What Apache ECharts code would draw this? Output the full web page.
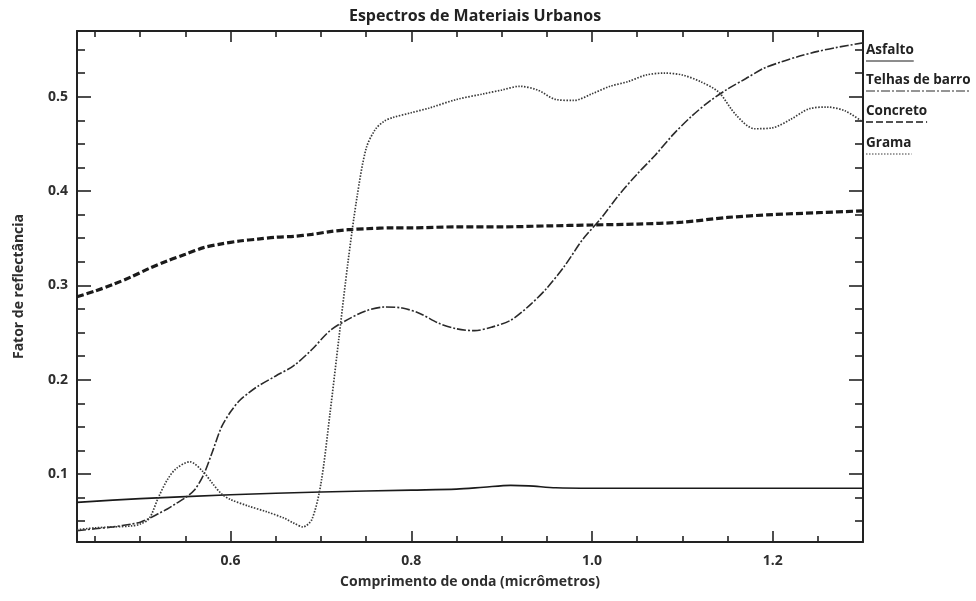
<!DOCTYPE html>
<html>
<head>
<meta charset="utf-8">
<script src="https://cdn.jsdelivr.net/npm/echarts@6/dist/echarts.min.js"></script>
<style>
  html, body { margin: 0; padding: 0; background: #fff; }
  #chart { width: 976px; height: 601px; }
</style>
</head>
<body>
<div id="chart"></div>
<script>
// ---- Data ----
const seriesNames = ["Asfalto", "Telhas de barro", "Concreto", "Grama"];

const asfaltoX = [0.43, 0.50, 0.60, 0.70, 0.80, 0.85, 0.88, 0.91, 0.93, 0.96, 1.00, 1.10, 1.20, 1.30];
const asfaltoY = [0.070, 0.074, 0.078, 0.081, 0.083, 0.084, 0.086, 0.088, 0.0875, 0.0855, 0.085, 0.085, 0.085, 0.085];

const telhasX = [0.43, 0.45, 0.47, 0.49, 0.50, 0.51, 0.52, 0.53, 0.54, 0.55, 0.56, 0.57, 0.58, 0.59, 0.60, 0.61, 0.62, 0.63, 0.65, 0.67, 0.69, 0.71, 0.73, 0.75, 0.77, 0.79, 0.81, 0.83, 0.85, 0.87, 0.89, 0.91, 0.93, 0.95, 0.97, 0.99, 1.01, 1.03, 1.05, 1.07, 1.09, 1.11, 1.13, 1.15, 1.17, 1.19, 1.21, 1.23, 1.25, 1.27, 1.30];
const telhasY = [0.040, 0.042, 0.044, 0.047, 0.049, 0.053, 0.058, 0.063, 0.069, 0.075, 0.083, 0.099, 0.124, 0.150, 0.166, 0.178, 0.186, 0.193, 0.204, 0.215, 0.232, 0.252, 0.264, 0.273, 0.277, 0.276, 0.270, 0.260, 0.254, 0.252, 0.256, 0.263, 0.278, 0.297, 0.321, 0.349, 0.371, 0.396, 0.418, 0.438, 0.460, 0.479, 0.495, 0.508, 0.519, 0.530, 0.537, 0.543, 0.548, 0.552, 0.557];

const concretoX = [0.43, 0.45, 0.47, 0.49, 0.51, 0.53, 0.55, 0.57, 0.59, 0.61, 0.63, 0.65, 0.67, 0.69, 0.71, 0.73, 0.75, 0.78, 0.80, 0.85, 0.90, 0.95, 1.00, 1.05, 1.10, 1.15, 1.20, 1.25, 1.30];
const concretoY = [0.288, 0.294, 0.301, 0.309, 0.318, 0.326, 0.333, 0.340, 0.344, 0.347, 0.349, 0.351, 0.352, 0.354, 0.357, 0.359, 0.360, 0.361, 0.361, 0.362, 0.362, 0.363, 0.364, 0.365, 0.367, 0.372, 0.375, 0.377, 0.379];

const gramaX = [0.43, 0.45, 0.47, 0.49, 0.50, 0.51, 0.52, 0.53, 0.54, 0.555, 0.57, 0.58, 0.59, 0.60, 0.62, 0.64, 0.66, 0.67, 0.68, 0.69, 0.70, 0.71, 0.72, 0.73, 0.74, 0.75, 0.76, 0.77, 0.78, 0.80, 0.82, 0.85, 0.88, 0.90, 0.92, 0.94, 0.96, 0.98, 1.00, 1.02, 1.04, 1.06, 1.08, 1.10, 1.12, 1.14, 1.16, 1.18, 1.20, 1.22, 1.24, 1.26, 1.28, 1.30];
const gramaY = [0.041, 0.043, 0.044, 0.045, 0.047, 0.053, 0.075, 0.094, 0.106, 0.113, 0.102, 0.090, 0.079, 0.073, 0.066, 0.060, 0.053, 0.048, 0.044, 0.052, 0.090, 0.164, 0.245, 0.325, 0.394, 0.445, 0.465, 0.474, 0.478, 0.483, 0.488, 0.497, 0.503, 0.507, 0.511, 0.507, 0.497, 0.496, 0.503, 0.511, 0.516, 0.523, 0.525, 0.523, 0.516, 0.505, 0.480, 0.466, 0.467, 0.476, 0.487, 0.489, 0.485, 0.473];

const xMajorTicks = [0.6, 0.8, 1.0, 1.2];
const xMinorTicks = [0.45, 0.5, 0.55, 0.65, 0.7, 0.75, 0.85, 0.9, 0.95, 1.05, 1.1, 1.15, 1.25];
const yMajorTicks = [0.1, 0.2, 0.3, 0.4, 0.5];
const yMinorTicks = [0.05, 0.075, 0.125, 0.15, 0.175, 0.225, 0.25, 0.275, 0.325, 0.35, 0.375, 0.425, 0.45, 0.475, 0.525, 0.55];

const xMin = 0.43, xMax = 1.30, yMin = 0.028, yMax = 0.5696;

// ---- Chart ----
const zip = (xs, ys) => xs.map((x, i) => [x, ys[i]]);
const FONT = '"Open Sans", "DejaVu Sans", sans-serif';
const AXIS_COLOR = '#222';
const TEXT_STYLE = { color: '#2e2e2e', fontFamily: FONT, fontWeight: 'bold', fontSize: 14 };

function xAxisDef(position, major, showLabel) {
  return {
    type: 'value', min: xMin, max: xMax, position: position, offset: 0,
    axisLine: { show: major, onZero: false, lineStyle: { color: AXIS_COLOR, width: 2 } },
    axisTick: { show: true, inside: true, length: major ? 11 : 6,
      customValues: major ? xMajorTicks : xMinorTicks,
      lineStyle: { color: AXIS_COLOR, width: 1.6 } },
    axisLabel: showLabel ? Object.assign({
      show: true, customValues: xMajorTicks, margin: 12,
      formatter: v => v.toFixed(1)
    }, TEXT_STYLE) : { show: false },
    splitLine: { show: false },
    name: showLabel ? 'Comprimento de onda (micrômetros)' : '',
    nameLocation: 'middle', nameGap: 33,
    nameTextStyle: TEXT_STYLE
  };
}
function yAxisDef(position, major, showLabel) {
  return {
    type: 'value', min: yMin, max: yMax, position: position, offset: 0,
    axisLine: { show: major, onZero: false, lineStyle: { color: AXIS_COLOR, width: 2 } },
    axisTick: { show: true, inside: true, length: major ? 14 : 8,
      customValues: major ? yMajorTicks : yMinorTicks,
      lineStyle: { color: AXIS_COLOR, width: 1.6 } },
    axisLabel: showLabel ? Object.assign({
      show: true, customValues: yMajorTicks, margin: 9,
      formatter: v => v.toFixed(1)
    }, TEXT_STYLE) : { show: false },
    splitLine: { show: false },
    name: showLabel ? 'Fator de reflectância' : '',
    nameLocation: 'middle', nameGap: 51, nameRotate: 90,
    nameTextStyle: TEXT_STYLE
  };
}

const lineStyles = {
  "Asfalto": { color: '#1a1a1a', width: 1.6, type: 'solid' },
  "Telhas de barro": { color: '#2a2a2a', width: 1.6, type: [9, 2, 2, 2] },
  "Concreto": { color: '#1a1a1a', width: 3.2, type: [7, 3] },
  "Grama": { color: '#3a3a3a', width: 1.7, type: [1.5, 1.5] }
};
const seriesData = {
  "Asfalto": zip(asfaltoX, asfaltoY),
  "Telhas de barro": zip(telhasX, telhasY),
  "Concreto": zip(concretoX, concretoY),
  "Grama": zip(gramaX, gramaY)
};

const chart = echarts.init(document.getElementById('chart'), null, { renderer: 'canvas' });

// legend-like labels with underline samples
const LEGEND_FONT = 'bold 13.5px "Open Sans"';
const ctx = document.createElement('canvas').getContext('2d');
ctx.font = LEGEND_FONT;
const legendTop = [53, 83, 114, 146];
const legendGraphics = [];
seriesNames.forEach((name, i) => {
  const w = ctx.measureText(name).width;
  legendGraphics.push({
    type: 'text', left: 866, top: legendTop[i] - 10,
    style: { text: name, fill: '#222', font: LEGEND_FONT }
  });
  const ls = lineStyles[name];
  legendGraphics.push({
    type: 'line',
    shape: { x1: 866, y1: legendTop[i] + 8, x2: 866 + w, y2: legendTop[i] + 8 },
    style: { stroke: ls.color, lineWidth: name === 'Concreto' ? 1.6 : 1,
      lineDash: ls.type === 'solid' ? null : ls.type }
  });
});

chart.setOption({
  backgroundColor: '#fff',
  animation: false,
  title: {
    text: 'Espectros de Materiais Urbanos', left: 470, textAlign: 'center', top: 3,
    textStyle: { color: '#222', fontFamily: FONT, fontWeight: 'bold', fontSize: 16 }
  },
  grid: { left: 77, right: 113, top: 31, bottom: 59, containLabel: false },
  xAxis: [xAxisDef('bottom', true, true), xAxisDef('bottom', false, false),
          xAxisDef('top', true, false), xAxisDef('top', false, false)],
  yAxis: [yAxisDef('left', true, true), yAxisDef('left', false, false),
          yAxisDef('right', true, false), yAxisDef('right', false, false)],
  series: seriesNames.map(name => ({
    name: name, type: 'line', xAxisIndex: 0, yAxisIndex: 0,
    data: seriesData[name], showSymbol: false, symbol: 'none',
    smooth: 0.3, lineStyle: lineStyles[name], z: 3
  })),
  graphic: legendGraphics
});
</script>
</body>
</html>
